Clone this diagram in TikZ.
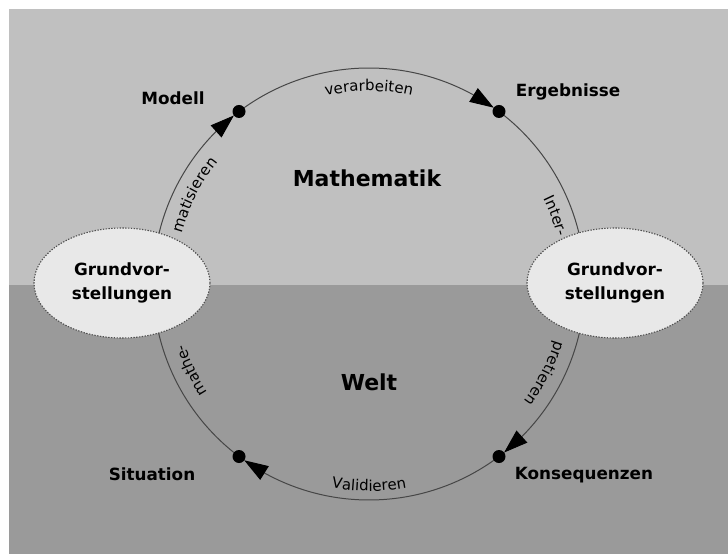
\documentclass[tikz,border=0pt]{standalone}
\usepackage{fontspec}
\setmainfont{DejaVu Sans}
\usetikzlibrary{arrows.meta,bending,shapes.geometric,decorations.text,calc}
\definecolor{topgray}{RGB}{192,192,192}
\definecolor{botgray}{RGB}{154,154,154}
\definecolor{ellfill}{RGB}{232,232,232}
\definecolor{arcline}{RGB}{70,70,70}
\definecolor{elledge}{RGB}{80,80,80}
\newcommand\arcsize{\fontsize{15}{18}\selectfont}
\begin{document}
\begin{tikzpicture}[x=1pt,y=1pt,
  flow/.style={draw=arcline, line width=1pt, -{Triangle[length=24pt,width=16pt,color=black]}},
  dotnode/.style={circle, fill=black, minimum size=13pt, inner sep=0pt},
  ellnode/.style={ellipse, fill=ellfill, draw=elledge, line width=1.1pt,
    dash pattern=on 1.4pt off 1.4pt, minimum width=176pt, minimum height=110pt,
    inner sep=0pt, align=center, font=\bfseries\fontsize{16.8}{24}\selectfont},
  lbl/.style={font=\bfseries\fontsize{16.8}{20}\selectfont, inner sep=0pt},
  biglbl/.style={font=\bfseries\fontsize{22}{26}\selectfont, inner sep=0pt},
  cwtext/.style={decorate, decoration={text along path, text align=center, text={|\arcsize|#1}}}
]
\useasboundingbox (0,0) rectangle (728,554);
\fill[white] (0,0) rectangle (728,554);
\fill[topgray] (9,269) rectangle (728,545);
\fill[botgray] (9,0) rectangle (728,269);

\coordinate (C) at (369,270);
\coordinate (M0) at ($(C)+(127:216)$);
\coordinate (E0) at ($(C)+(53:216)$);
\coordinate (K0) at ($(C)+(-53:216)$);
\coordinate (S0) at ($(C)+(-127:216)$);

% connectors along the circle
\draw[flow] (S0) arc[start angle=233, end angle=128.7, radius=216];
\draw[flow] (M0) arc[start angle=127, end angle=54.7, radius=216];
\draw[flow] (E0) arc[start angle=53, end angle=-51.3, radius=216];
\draw[flow] (K0) arc[start angle=-53, end angle=-125.3, radius=216];

% dots
\node[dotnode] (M) at (M0) {};
\node[dotnode] (E) at (E0) {};
\node[dotnode] (K) at (K0) {};
\node[dotnode] (S) at (S0) {};

% ellipses
\node[ellnode] (GL) at (122,271) {Grundvor-\\stellungen};
\node[ellnode] (GR) at (615,271) {Grundvor-\\stellungen};

% arc labels
\path[cwtext=verarbeiten] ($(C)+(115:193)$) arc[start angle=115, end angle=65, radius=193];
\path[cwtext=matisieren] ($(C)+(178:194)$) arc[start angle=178, end angle=128, radius=194];
\path[cwtext=mathe-] ($(C)+(231:194)$) arc[start angle=231, end angle=181, radius=194];
\path[cwtext=Inter-] ($(C)+(45:194)$) arc[start angle=45, end angle=-5, radius=194];
\path[cwtext=pretieren] ($(C)+(-2:194)$) arc[start angle=-2, end angle=-52, radius=194];
\path[cwtext=Validieren] ($(C)+(-115:207)$) arc[start angle=-115, end angle=-65, radius=207];

% labels
\node[lbl] (modell) at (173,456) {Modell};
\node[lbl] (ergeb) at (568,462) {Ergebnisse};
\node[lbl] (sit) at (152,80) {Situation};
\node[lbl] (kons) at (584,79) {Konsequenzen};
\node[biglbl] (math) at (367,376) {Mathematik};
\node[biglbl] (welt) at (369,172) {Welt};
\end{tikzpicture}
\end{document}
